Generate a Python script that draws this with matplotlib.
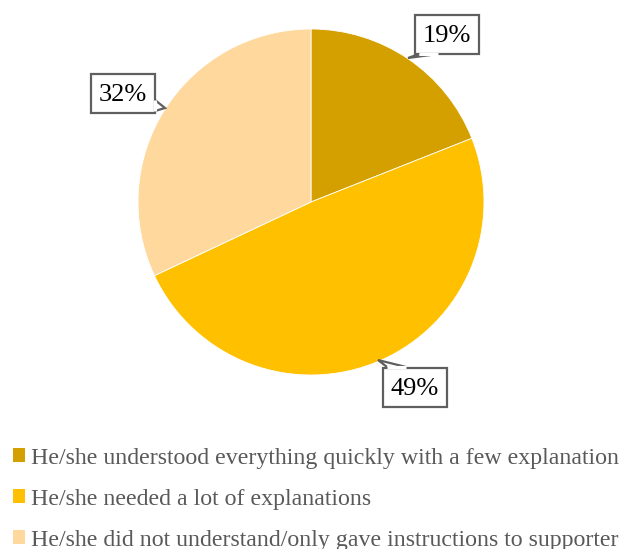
import matplotlib.pyplot as plt
from matplotlib.patches import Patch, Rectangle, Polygon

categories = [
    "He/she understood everything quickly with a few explanation",
    "He/she needed a lot of explanations",
    "He/she did not understand/only gave instructions to supporter",
]
shares = [19, 49, 32]
colors = ["#D4A000", "#FFC000", "#FFD89E"]

# callout boxes (centre, pixels from top left), pointer tips and pointer bases
label_pos = [(447, 34), (415, 387), (123, 93)]
label_tip = [(408, 58), (378, 360), (165, 108)]
label_base = [((419, 54), (438, 54)), ((387, 367), (406, 367)), ((155, 100), (155, 111))]
box_w, box_h = 64, 39

W, H = 622, 549
fig = plt.figure(figsize=(W / 100, H / 100), dpi=100)
ax = fig.add_axes([0, 0, 1, 1])

ax.pie(shares, colors=colors, startangle=90, counterclock=False,
       center=(311, H - 202), radius=173,
       wedgeprops=dict(linewidth=0.6, edgecolor="white"), frame=True)
ax.set_xlim(0, W)
ax.set_ylim(0, H)
ax.set_aspect("equal")
ax.axis("off")

edge = "#5f5f5f"
for val, (bx, by), (tx, ty), (b1, b2) in zip(shares, label_pos, label_tip, label_base):
    ax.add_patch(Rectangle((bx - box_w / 2, H - by - box_h / 2), box_w, box_h,
                           fc="white", ec=edge, lw=1.6, zorder=3))
    ax.add_patch(Polygon([(b1[0], H - b1[1]), (tx, H - ty), (b2[0], H - b2[1])],
                         closed=False, fc="white", ec=edge, lw=1.6, zorder=4))
    # hide the box border where the pointer joins it
    ax.plot([b1[0], b2[0]], [H - b1[1], H - b2[1]], color="white", lw=2.2,
            solid_capstyle="butt", zorder=5)
    ax.text(bx, H - by - 2, f"{val}%", ha="center", va="center", fontsize=19,
            family="Liberation Serif", color="black", zorder=6)

handles = [Patch(facecolor=c, edgecolor="none") for c in colors]
fig.legend(handles, categories, loc="upper left",
           bbox_to_anchor=(3 / W, 1 - 438 / H), frameon=False,
           prop=dict(family="Liberation Serif", size=17.2),
           labelcolor="#595959", handlelength=0.52, handleheight=0.52,
           handletextpad=0.25, labelspacing=0.84, borderaxespad=0)

fig.savefig("out.png", dpi=100)
